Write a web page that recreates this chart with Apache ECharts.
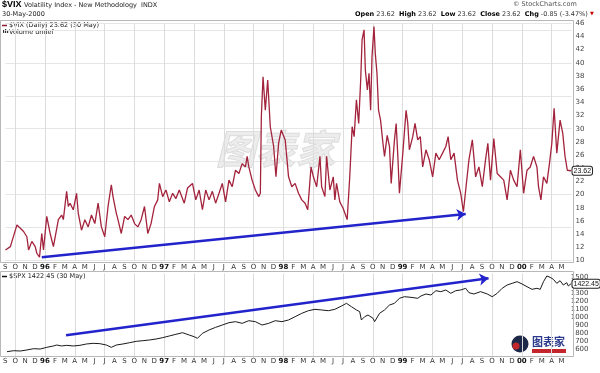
<!DOCTYPE html>
<html><head><meta charset="utf-8">
<script src="https://cdn.jsdelivr.net/npm/echarts@6/dist/echarts.min.js"></script>
<style>html,body{margin:0;padding:0;background:#fff}#c{width:600px;height:373px}</style>
</head><body><div id="c"></div>
<script>
// x values: months since Jan 1995 (8 = Sep 1995, 60 = Jan 2000)
const monthLetters = ['J','F','M','A','M','J','J','A','S','O','N','D'];

const vixMonth = [8.02,8.52,9.18,9.52,9.85,10.18,10.35,10.68,11.02,11.18,11.45,11.68,11.85,12.18,12.52,12.85,13.35,13.68,13.85,14.18,
14.35,14.52,14.85,15.18,15.35,15.68,16.02,16.35,16.68,17.02,17.35,17.68,18.02,18.35,18.68,18.85,19.18,19.35,19.68,20.02,
20.35,20.68,21.02,21.35,21.68,22.02,22.35,22.68,23.02,23.35,23.52,23.85,24.18,24.52,24.85,25.18,25.52,26.02,26.35,26.85,
27.18,27.52,27.85,28.18,28.52,28.85,29.18,29.52,29.85,30.18,30.52,30.85,31.18,31.52,31.85,32.18,32.35,32.52,32.85,33.18,
33.52,33.68,33.78,33.95,34.18,34.42,34.68,35.02,35.25,35.52,35.78,36.18,36.52,36.85,37.18,37.52,37.85,38.18,38.45,38.78,
39.02,39.35,39.68,39.85,40.18,40.35,40.68,41.02,41.18,41.35,41.68,42.02,42.18,42.42,42.68,42.92,43.12,43.35,43.58,43.78,
43.92,44.12,44.25,44.45,44.62,44.78,44.92,45.12,45.25,45.42,45.58,45.78,46.02,46.18,46.45,46.68,46.85,47.18,47.35,47.52,
47.68,48.02,48.35,48.52,48.68,49.02,49.25,49.52,49.78,50.02,50.35,50.68,51.02,51.35,51.68,52.02,52.35,52.58,52.85,53.18,
53.52,53.85,54.12,54.35,54.68,55.02,55.35,55.68,56.02,56.35,56.58,56.85,57.18,57.52,57.85,58.18,58.52,58.85,59.18,59.52,
59.85,60.18,60.52,60.85,61.18,61.52,61.68,61.92,62.18,62.52,62.78,63.02,63.25,63.52,63.85,64.12,64.35,64.58,64.78,64.95];
const vixValue = [11.6,12.1,15.4,14.9,14.4,13.6,11.6,12.9,12.1,11.1,10.5,14.1,11.6,16.7,14.1,12.1,16.2,16.9,16.2,20.5,
18.2,18.7,17.7,20.2,17.2,14.6,16.2,15.1,16.9,15.6,18.7,15.1,13.6,18.2,21.5,19.7,17.2,16.2,14.1,16.7,
16.2,16.9,15.6,15.1,16.2,18.2,14.1,15.6,18.2,19.2,21.7,19.7,20.7,18.9,20.2,19.4,20.7,18.7,21.0,21.7,
19.2,20.7,17.7,20.7,19.2,20.5,18.7,20.2,21.7,18.9,22.2,21.2,23.7,23.2,24.7,24.2,25.8,24.2,22.2,20.7,
19.7,20.2,31.8,37.9,32.8,37.4,30.3,27.3,22.7,27.8,29.8,28.3,22.7,21.2,21.7,20.2,19.2,18.7,17.7,24.2,
22.7,21.2,25.8,21.2,19.7,25.8,20.7,22.7,19.2,21.7,18.9,17.9,18.2,16.2,22.7,30.3,28.8,34.4,30.8,37.4,
43.5,45.0,38.9,35.9,38.4,32.8,40.9,45.5,41.4,38.4,32.8,31.3,27.8,25.8,29.0,27.3,21.7,28.3,30.8,25.8,
20.2,26.3,32.8,30.8,26.8,28.8,30.8,28.3,28.8,24.2,26.8,25.3,22.7,26.3,25.3,26.3,27.3,28.8,25.3,26.3,
22.2,20.2,17.4,20.7,25.3,28.3,22.7,24.2,21.2,25.3,27.8,22.2,28.5,23.2,22.7,22.2,19.2,23.7,22.2,21.2,
26.8,20.2,23.7,24.2,25.8,24.2,21.2,19.2,22.7,21.7,24.7,27.8,33.1,26.3,31.3,29.3,25.8,23.7,23.7,23.62];

const spxMonth = [8.18,8.85,9.52,10.18,10.85,11.52,12.18,12.85,13.18,13.68,14.18,14.85,15.52,16.18,16.85,17.52,18.18,18.68,19.18,19.85,
20.52,21.18,21.85,22.52,23.18,23.85,24.52,25.18,25.85,26.52,27.02,27.35,27.85,28.52,29.18,29.85,30.52,31.18,31.85,32.52,
33.18,33.85,34.52,35.18,35.85,36.52,37.18,37.85,38.52,39.18,39.85,40.52,41.18,41.85,42.35,42.85,43.35,43.68,43.85,44.18,
44.52,45.02,45.18,45.68,46.18,46.68,47.18,47.68,48.18,48.85,49.52,49.85,50.35,50.85,51.35,51.85,52.35,52.85,53.35,53.85,
54.35,54.68,55.18,55.85,56.52,57.02,57.52,58.02,58.52,59.02,59.52,60.02,60.52,61.02,61.52,61.85,62.18,62.52,62.85,63.18,
63.52,63.85,64.18,64.52,64.68,64.95];
const spxValue = [573,585,581,594,610,606,627,644,656,644,652,644,652,669,677,673,656,627,656,669,
685,702,710,719,731,748,769,790,810,781,760,740,802,844,877,906,935,948,927,960,
948,906,927,960,948,969,1010,1052,1085,1102,1094,1085,1102,1144,1177,1135,1094,1073,969,1010,
1031,990,948,1052,1094,1156,1177,1240,1260,1252,1240,1269,1294,1281,1335,1323,1344,1302,1335,1344,
1365,1310,1294,1323,1294,1260,1302,1365,1406,1427,1448,1419,1385,1352,1365,1352,1448,1519,1502,1477,
1427,1460,1406,1435,1394,1422.45];

const vixTrend = [[11.68,10.5],[54.35,17.06]];
const spxTrend = [[14.12,778],[56.65,1490]];

const zip = (a, b) => a.map((v, i) => [v, b[i]]);
const FONT = 'DejaVu Sans';
const NUMFONT = 'Liberation Sans';

const monthFmt = v => {
  const mo = ((v % 12) + 12) % 12;
  if (mo === 0) return '{b|' + String(1995 + v / 12).slice(2) + '}';
  return monthLetters[mo];
};

function xAxisCfg(grid, margin) {
  return {
    gridIndex: grid, type: 'value', min: 8, max: 65, interval: 1,
    axisLine: {show: false}, axisTick: {show: false},
    axisLabel: {formatter: monthFmt, fontSize: 7, color: '#333', margin: margin,
      fontFamily: FONT, showMaxLabel: false,
      rich: {b: {fontWeight: 'bold', fontSize: 7, color: '#111', fontFamily: FONT}}},
    splitLine: {show: true, lineStyle: {color: ['rgba(0,0,0,0)', '#dcdcdc', 'rgba(0,0,0,0)'], width: 1}}
  };
}

const boxLabel = {
  show: true, formatter: p => p.value[1].toFixed(2), backgroundColor: '#fff',
  borderColor: '#222', borderWidth: 1, borderRadius: 2, padding: [1, 1, 0, 1],
  fontSize: 7, color: '#111', fontFamily: NUMFONT, distance: 1.5
};

const chart = echarts.init(document.getElementById('c'), null, {renderer: 'canvas'});
chart.setOption({
  animation: false,
  backgroundColor: '#fff',
  grid: [
    {left: 1.5, width: 570, top: 23.3, height: 237.2},
    {left: 1.5, width: 570, top: 273.5, height: 84}
  ],
  xAxis: [xAxisCfg(0, 3), xAxisCfg(1, 0)],
  yAxis: [
    {gridIndex: 0, type: 'value', position: 'right', min: 10, max: 46, interval: 2,
      axisLine: {show: false}, axisTick: {show: false}, splitLine: {show: false},
      axisLabel: {fontSize: 7, color: '#444', margin: 4, fontFamily: FONT}},
    {gridIndex: 0, type: 'value', position: 'left', min: 10, max: 46, interval: 5,
      axisLine: {show: false}, axisTick: {show: false}, axisLabel: {show: false},
      splitLine: {show: true, lineStyle: {color: '#e6e6e6'}}},
    {gridIndex: 1, type: 'value', position: 'right', min: 500, max: 1550, interval: 100,
      axisLine: {show: false}, axisTick: {show: false}, splitLine: {show: false},
      axisLabel: {fontSize: 7, color: '#444', margin: 17, align: 'right', fontFamily: FONT,
        formatter: v => String(v), showMinLabel: false, showMaxLabel: false}}
  ],
  graphic: [
    {type: 'rect', shape: {x: 0.5, y: 20.5, width: 573, height: 242}, style: {fill: 'none', stroke: '#b8b8b8', lineWidth: 1}, silent: true, z: 1},
    {type: 'rect', shape: {x: 0.5, y: 271.5, width: 573, height: 85}, style: {fill: 'none', stroke: '#b8b8b8', lineWidth: 1}, silent: true, z: 1},
    {type: 'text', left: 215, top: 128, z: 0, style: {text: '图表家', font: 'italic bold 40px "Noto Sans CJK SC"', fill: 'rgba(170,170,170,0.22)', stroke: 'rgba(150,150,150,0.25)', lineWidth: 1}},
    {type: 'text', left: 2, top: 0.5, style: {text: '$VIX', font: 'bold 9px ' + NUMFONT, fill: '#000'}},
    {type: 'text', left: 24, top: 2, style: {text: 'Volatility Index - New Methodology  INDX', font: '6.5px ' + FONT, fill: '#222'}},
    {type: 'text', left: 2, top: 10.5, style: {text: '30-May-2000', font: '6.5px ' + FONT, fill: '#222'}},
    {type: 'text', left: 513, top: 1, style: {text: '© StockCharts.com', font: '6.5px ' + FONT, fill: '#555'}},
    {type: 'text', left: 355, top: 10.5, style: {
      text: '{b|Open} 23.62  {b|High} 23.62  {b|Low} 23.62  {b|Close} 23.62  {b|Chg} -0.85 (-3.47%) {r|▼}',
      font: '6.5px ' + FONT, fill: '#333',
      rich: {b: {font: 'bold 6.5px ' + FONT, fill: '#000'}, r: {font: '5px ' + FONT, fill: '#c00'}}}},
    {type: 'line', shape: {x1: 2, y1: 25.5, x2: 7, y2: 25.5}, style: {stroke: '#8b1a32', lineWidth: 1.5}},
    {type: 'text', left: 9, top: 22, style: {text: '$VIX (Daily) 23.62 (30 May)', font: '6.5px ' + FONT, fill: '#222'}},
    {type: 'rect', shape: {x: 3, y: 30, width: 1.2, height: 3}, style: {fill: '#333'}},
    {type: 'rect', shape: {x: 5, y: 29, width: 1.2, height: 4}, style: {fill: '#333'}},
    {type: 'rect', shape: {x: 7, y: 30.5, width: 1.2, height: 2.5}, style: {fill: '#333'}},
    {type: 'text', left: 9, top: 28.5, style: {text: 'Volume undef', font: '6.5px ' + FONT, fill: '#222'}},
    {type: 'line', shape: {x1: 2, y1: 276.5, x2: 7, y2: 276.5}, style: {stroke: '#111', lineWidth: 1.5}},
    {type: 'text', left: 9, top: 273, style: {text: '$SPX 1422.45 (30 May)', font: '6.5px ' + FONT, fill: '#222'}},
    {type: 'circle', shape: {cx: 520, cy: 344, r: 8.5}, style: {fill: '#1d2747'}},
    {type: 'circle', shape: {cx: 516, cy: 346, r: 3.5}, style: {fill: '#c4262e'}},
    {type: 'text', left: 532, top: 336, style: {text: '图表家', font: 'bold 11px "Noto Sans CJK SC"', fill: '#2b3a8c'}},
    {type: 'rect', shape: {x: 532, y: 349, width: 34, height: 4}, style: {fill: '#c4262e'}}
  ],
  series: [
    {type: 'line', xAxisIndex: 0, yAxisIndex: 0, data: zip(vixMonth, vixValue), symbol: 'none',
      lineStyle: {color: '#a3233c', width: 1.3}, z: 3, endLabel: boxLabel},
    {type: 'line', xAxisIndex: 1, yAxisIndex: 2, data: zip(spxMonth, spxValue), symbol: 'none',
      lineStyle: {color: '#1a1a1a', width: 1}, z: 3, endLabel: boxLabel},
    {type: 'lines', coordinateSystem: 'cartesian2d', xAxisIndex: 0, yAxisIndex: 0, z: 4,
      symbol: ['none', 'arrow'], symbolSize: 9,
      lineStyle: {color: '#2323cc', width: 2.4, opacity: 1},
      data: [{coords: vixTrend}]},
    {type: 'lines', coordinateSystem: 'cartesian2d', xAxisIndex: 1, yAxisIndex: 2, z: 4,
      symbol: ['none', 'arrow'], symbolSize: 9,
      lineStyle: {color: '#2323cc', width: 2.4, opacity: 1},
      data: [{coords: spxTrend}]}
  ]
});
</script></body></html>
